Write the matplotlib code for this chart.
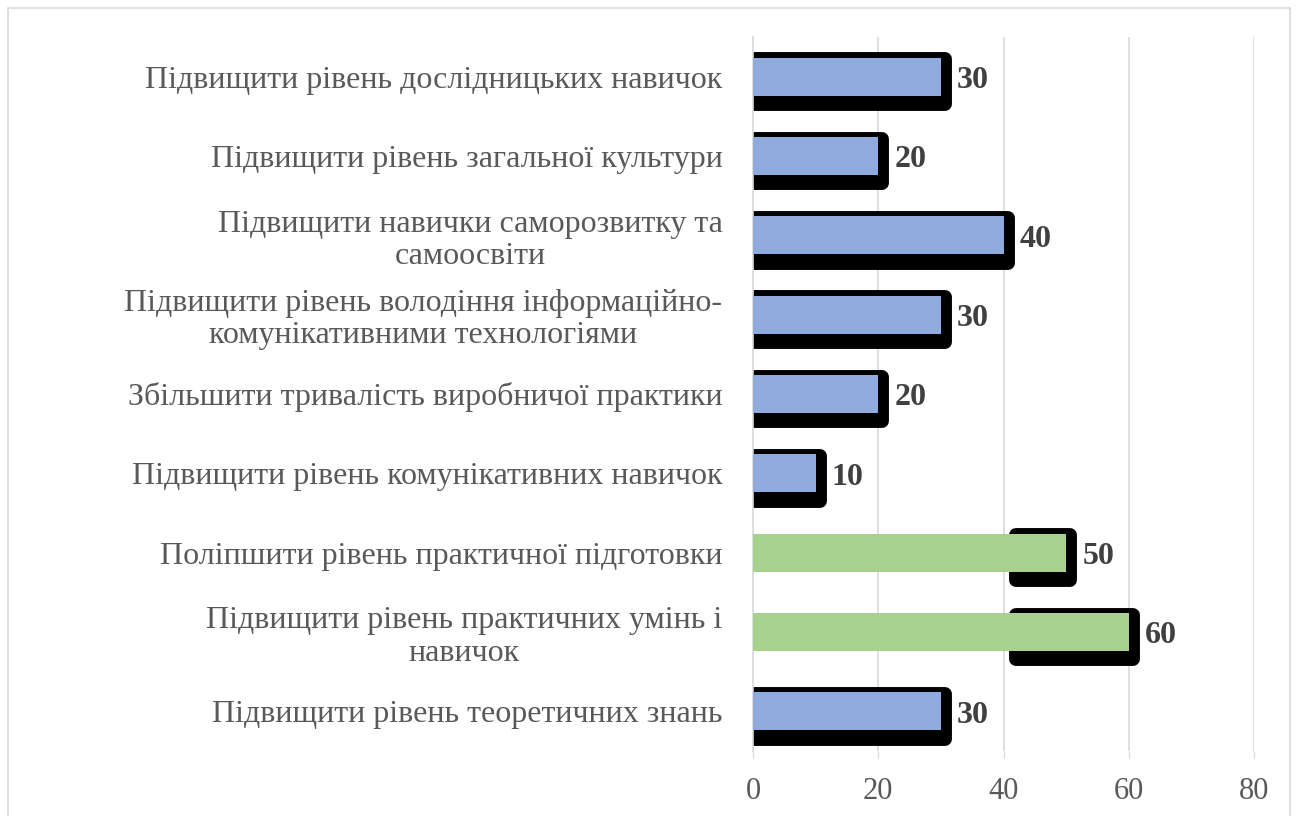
import matplotlib.pyplot as plt
from matplotlib.patches import Rectangle

categories = [
    "Підвищити рівень дослідницьких навичок",
    "Підвищити рівень загальної культури",
    "Підвищити навички саморозвитку та\nсамоосвіти",
    "Підвищити рівень володіння інформаційно-\nкомунікативними технологіями",
    "Збільшити тривалість виробничої практики",
    "Підвищити рівень комунікативних навичок",
    "Поліпшити рівень практичної підготовки",
    "Підвищити рівень практичних умінь і\nнавичок",
    "Підвищити рівень теоретичних знань",
]
values = [30, 20, 40, 30, 20, 10, 50, 60, 30]
highlight = [False, False, False, False, False, False, True, True, False]

BLUE = "#8FAADC"
GREEN = "#A9D18E"

plt.rcParams["font.family"] = ["Liberation Serif", "DejaVu Serif"]

fig = plt.figure(figsize=(12.99, 8.16), dpi=100)
ax = fig.add_axes([753 / 1299, 1 - 751 / 816, 501 / 1299, 714 / 816])

fig.patches.append(Rectangle((8 / 1299, -0.01), 1282 / 1299, 1 - 8 / 816 + 0.01,
                             transform=fig.transFigure, fill=False,
                             edgecolor="#D9D9D9", linewidth=1.2))

y = list(range(len(categories)))
bar_h = 0.48
for yi, v, hl in zip(y, values, highlight):
    start = 42 if hl else 0
    # black rounded "shadow" behind each bar
    ax.barh(yi + 0.063, v + 0.64 - start, left=start, height=0.566,
            color="black", edgecolor="black", linewidth=10,
            joinstyle="round", zorder=2)
    ax.barh(yi, v, height=bar_h, color=GREEN if hl else BLUE,
            edgecolor="none", zorder=3)
    ax.text(v + 2.6, yi + 0.05, str(v), va="center", ha="left", fontsize=23,
            fontweight="bold", color="#404040", zorder=4)

ax.set_xlim(0, 80)
ax.set_ylim(8.5, -0.5)
ax.set_xticks([0, 20, 40, 60, 80])
ax.set_yticks(y)
ax.set_yticklabels(categories, multialignment="center", linespacing=1.15)
ax.tick_params(axis="y", length=0, pad=22, labelsize=23, labelcolor="#595959")
ax.tick_params(axis="x", length=5, color="#D9D9D9", pad=14, labelsize=22,
               labelcolor="#595959")
ax.xaxis.grid(True, color="#D9D9D9", linewidth=1.2, zorder=0)
ax.set_axisbelow(True)
for s in ("top", "right", "bottom"):
    ax.spines[s].set_visible(False)
ax.spines["left"].set_color("#D9D9D9")
ax.spines["left"].set_linewidth(1.2)

fig.savefig("out.png", dpi=100)
